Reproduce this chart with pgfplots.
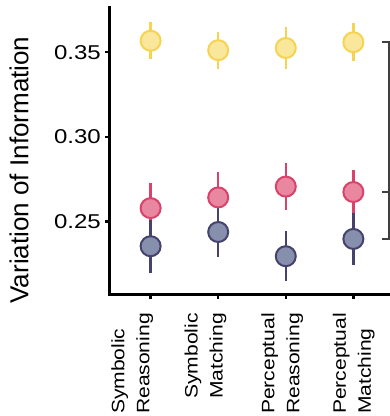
\documentclass[border=0pt]{standalone}
\usepackage{pgfplots}
\pgfplotsset{compat=1.18}
\usepackage{fontspec}
\setmainfont{Liberation Sans}
\newfontfamily\xtickfont[FakeStretch=1.17]{Liberation Sans}
\newfontfamily\ytickfont[FakeStretch=1.2]{Liberation Sans}
\definecolor{yfill}{HTML}{F9E79B}
\definecolor{yedge}{HTML}{F6D452}
\definecolor{pfill}{HTML}{E8879F}
\definecolor{pedge}{HTML}{D9426A}
\definecolor{nfill}{HTML}{8690AD}
\definecolor{nedge}{HTML}{45426E}
\definecolor{brgray}{HTML}{404040}
\begin{document}
\begin{tikzpicture}
\useasboundingbox (-110pt,-122pt) rectangle (280pt,294pt);
\begin{axis}[
  at={(0,0)}, anchor=south west,
  scale only axis, width=280pt, height=287pt,
  xmin=-0.601, xmax=3.542, ymin=0.2073, ymax=0.3767,
  clip=false,
  axis x line*=bottom, axis y line*=left,
  axis line style={line width=3pt, line cap=rect},
  tick align=outside, major tick length=5pt,
  tick style={line width=2.5pt, black},
  xtick={0,1,2,3},
  xticklabels={},
  extra x ticks={0.040,1.125,2.258,3.319},
  extra x tick labels={{Symbolic\\Reasoning},{Symbolic\\Matching},{Perceptual\\Reasoning},{Perceptual\\Matching}},
  extra x tick style={tick style={draw=none},
    xticklabel style={font=\xtickfont\fontsize{18}{25}\selectfont, align=left, rotate=90, anchor=south east, inner sep=0pt},
    xticklabel shift=14pt},
  ytick={0.25,0.30,0.35},
  /pgf/number format/assume math mode=true,
  yticklabel={\pgfmathprintnumber[fixed, fixed zerofill, precision=2]{\tick}},
  yticklabel style={font=\ytickfont\fontsize{20}{24}\selectfont, inner sep=0pt},
  yticklabel shift=4pt,
  ylabel={Variation of Information},
  ylabel style={font=\fontsize{26}{28}\selectfont, at={(axis description cs:-0.325,0.432)}, anchor=center, inner sep=0pt},
]
% error bars
\addplot[only marks, mark=none, error bars/.cd, y dir=both, y explicit, error mark=none,
  error bar style={draw=yedge, line width=2.5pt}]
  coordinates {(0,0.3568) +- (0,0.0110) (1,0.3512) +- (0,0.0108) (2,0.3525) +- (0,0.0124) (3,0.3559) +- (0,0.0113)};
\addplot[only marks, mark=none, error bars/.cd, y dir=both, y explicit, error mark=none,
  error bar style={draw=pedge, line width=2.5pt}]
  coordinates {(0,0.2580) +- (0,0.0150) (1,0.2643) +- (0,0.0150) (2,0.2707) +- (0,0.0137) (3,0.2675) +- (0,0.0128)};
\addplot[only marks, mark=none, error bars/.cd, y dir=both, y explicit, error mark=none,
  error bar style={draw=nedge, line width=2.5pt}]
  coordinates {(0,0.2355) +- (0,0.0157) (1,0.2439) +- (0,0.0150) (2,0.2296) +- (0,0.0148) (3,0.2398) +- (0,0.0152)};
% circles
\addplot[only marks, mark=*, mark size=10pt, mark options={fill=yfill, draw=yedge, line width=2pt}]
  coordinates {(0,0.3568) (1,0.3512) (2,0.3525) (3,0.3559)};
\addplot[only marks, mark=*, mark size=10pt, mark options={fill=pfill, draw=pedge, line width=2pt}]
  coordinates {(0,0.2580) (1,0.2643) (2,0.2707) (3,0.2675)};
\addplot[only marks, mark=*, mark size=10pt, mark options={fill=nfill, draw=nedge, line width=2pt}]
  coordinates {(0,0.2355) (1,0.2439) (2,0.2296) (3,0.2398)};
% bracket
\draw[line width=2pt, brgray] (axis cs:3.428,0.3559) -- (axis cs:3.527,0.3559) -- (axis cs:3.527,0.2398) -- (axis cs:3.428,0.2398);
\draw[line width=2pt, brgray] (axis cs:3.428,0.2676) -- (axis cs:3.527,0.2676);
\end{axis}
\end{tikzpicture}
\end{document}
